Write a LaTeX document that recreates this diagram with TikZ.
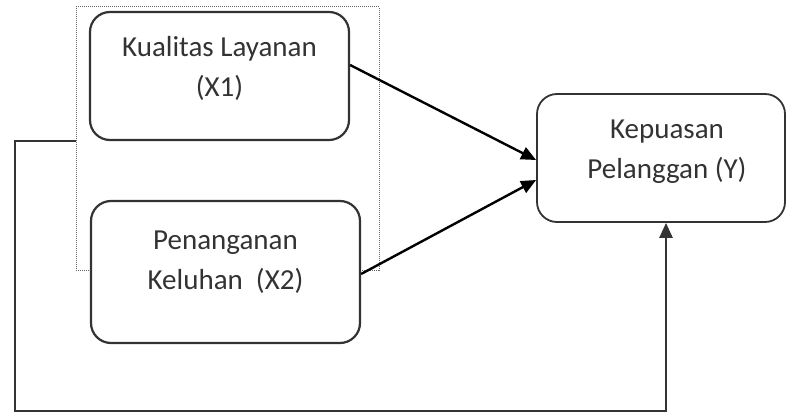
\documentclass[tikz,border=0pt]{standalone}
\usepackage{fontspec}
\setmainfont{Carlito}
\usetikzlibrary{arrows.meta,positioning}
\tikzset{>={Triangle[length=15pt,width=13pt]},
         varbox/.style={draw=black!80,line width=2.2pt,rounded corners=20pt,
                        fill=white,inner sep=0pt},
         vartext/.style={align=center,text=black!80,
                         font=\fontsize{29}{40}\selectfont},
         grpbox/.style={draw=black!60,densely dotted,line width=1pt,inner sep=0pt},
         link/.style={->,line width=2.4pt}}

\begin{document}
\begin{tikzpicture}[x=1pt,y=-1pt]
	  \useasboundingbox (0,0) rectangle (786,414);
	  % group of the two independent variables
	  \node[grpbox, minimum width=303pt, minimum height=263pt] (grp) at (227.5,138.5) {};
	  \node[varbox, minimum width=259pt, minimum height=128pt] (x1) at (219.5,76) {};
	  \node[varbox, minimum width=269pt, minimum height=142pt] (x2) at (225.5,272) {};
	  \node[varbox, minimum width=248pt, minimum height=128pt, line width=1.8pt] (y) at (661,158) {};
	  \node[vartext] (x1t) at ([yshift=8pt]x1.center) {Kualitas Layanan\\(X1)};
	  \node[vartext] (x2t) at ([yshift=10pt]x2.center) {Penanganan\\Keluhan\ \ (X2)};
	  \node[vartext] (yt) at ([xshift=6pt,yshift=6pt]y.center) {Kepuasan\\Pelanggan (Y)};
	  % arrows
	  \draw[link] ([yshift=11pt]x1.east) -- ([yshift=-2pt]y.west);
	  \draw[link] ([yshift=-2pt]x2.east) -- ([yshift=-22pt]y.west);
	  \coordinate (fb) at (15,411);
	  \draw[link, black!80] ([yshift=-2.5pt]grp.west) -| (fb) -| ([xshift=5pt]y.south);
	\end{tikzpicture}
\end{document}
